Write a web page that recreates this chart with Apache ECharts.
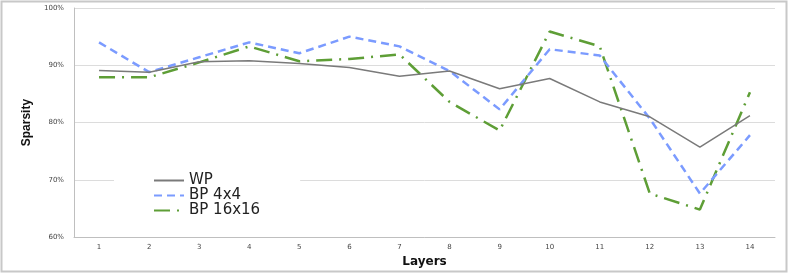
<!DOCTYPE html>
<html><head><meta charset="utf-8">
<script src="https://cdn.jsdelivr.net/npm/echarts@6/dist/echarts.min.js"></script>
<style>html,body{margin:0;padding:0;background:#fff}#c{width:789px;height:273px}</style>
</head><body><div id="c"></div>
<script>
var categories = ['1','2','3','4','5','6','7','8','9','10','11','12','13','14'];
var yTicks = ['60%','70%','80%','90%','100%'];
var wp = [89.1, 88.8, 90.6, 90.8, 90.3, 89.6, 88.1, 89.0, 85.9, 87.7, 83.6, 81.0, 75.7, 81.2];
var bp4 = [94.0, 88.8, 91.4, 94.0, 92.1, 95.0, 93.3, 89.0, 82.3, 92.8, 91.7, 80.7, 67.6, 77.8];
var bp16 = [87.9, 87.9, 90.5, 93.3, 90.7, 91.1, 91.9, 83.6, 78.6, 95.9, 93.3, 67.6, 64.8, 85.3];
var seriesNames = ['WP', 'BP 4x4', 'BP 16x16'];

var chart = echarts.init(document.getElementById('c'));
chart.setOption({
  animation: false,
  backgroundColor: '#fff',
  graphic: [{type:'rect', shape:{x:1.5,y:1.5,width:785,height:270}, style:{fill:'none', stroke:'#c8c8c8', lineWidth:2}, silent:true, z:-1}],
  grid: {left: 74, right: 14, top: 8, bottom: 33},
  legend: {
    data: seriesNames,
    orient: 'vertical',
    left: 114, top: 172,
    itemWidth: 30, itemHeight: 10, itemGap: 0,
    backgroundColor: '#fff',
    padding: [1, 40, 1, 39],
    itemStyle: {opacity: 0},
    textStyle: {fontFamily: 'DejaVu Sans', fontSize: 15, lineHeight: 14.5, color: '#222'}
  },
  xAxis: {
    type: 'category', data: categories, boundaryGap: true,
    name: 'Layers', nameLocation: 'middle', nameGap: 18,
    nameTextStyle: {fontFamily: 'DejaVu Sans', fontWeight: 'bold', fontSize: 12, color: '#111'},
    axisLine: {lineStyle: {color: '#bfbfbf', width: 1}},
    axisTick: {show: false},
    axisLabel: {fontFamily: 'DejaVu Sans', fontSize: 7, color: '#444', margin: 7}
  },
  yAxis: {
    type: 'value', min: 60, max: 100, interval: 10,
    name: 'Sparsity', nameLocation: 'middle', nameGap: 37, nameRotate: 90,
    nameTextStyle: {fontFamily: 'Liberation Sans Narrow, Liberation Sans', fontWeight: 'bold', fontSize: 12, color: '#111'},
    axisLine: {show: true, lineStyle: {color: '#bfbfbf', width: 1}},
    axisTick: {show: false},
    splitLine: {lineStyle: {color: '#dcdcdc', width: 1}},
    axisLabel: {fontFamily: 'DejaVu Sans', fontSize: 7, color: '#444', margin: 10,
      formatter: function(v){ return yTicks[Math.round((v-60)/10)]; }}
  },
  series: [
    {name: seriesNames[0], type: 'line', data: wp, showSymbol: false, symbol: 'none',
     lineStyle: {color: '#7a7a7a', width: 1.5}, itemStyle: {color: '#7a7a7a'}, z: 3},
    {name: seriesNames[1], type: 'line', data: bp4, showSymbol: false, symbol: 'none',
     lineStyle: {color: '#7b9bff', width: 2.5, type: [8, 5]}, itemStyle: {color: '#7b9bff'}, z: 2},
    {name: seriesNames[2], type: 'line', data: bp16, showSymbol: false, symbol: 'none',
     lineStyle: {color: '#5e9e36', width: 2.5, type: [16, 7, 2, 7]}, itemStyle: {color: '#5e9e36'}, z: 1}
  ]
});
</script></body></html>
